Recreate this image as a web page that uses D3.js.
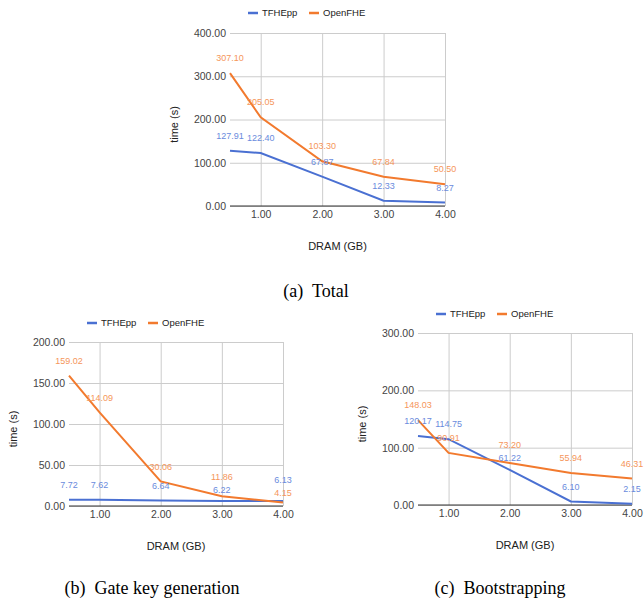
<!DOCTYPE html>
<html>
<head>
<meta charset="utf-8">
<script src="https://cdn.jsdelivr.net/npm/d3@7/dist/d3.min.js"></script>
<style>
  body { margin: 0; background: #fff; }
  svg { display: block; }
</style>
</head>
<body>
<svg id="chart" width="644" height="600"></svg>
<script>
// DRAM sizes (GB) on the x axis, first point is the 0.5 GB run
const dramGB = [0.5, 1, 2, 3, 4];
const xTicks = [1, 2, 3, 4];

const seriesNames = ['TFHEpp', 'OpenFHE'];

// (a) Total
const totalTFHEpp = [127.91, 122.40, 67.87, 12.33, 8.27];
const totalOpenFHE = [307.10, 205.05, 103.30, 67.84, 50.50];
const totalYTicks = [0, 100, 200, 300, 400];

// (b) Gate key generation
const gateTFHEpp = [7.72, 7.62, 6.64, 6.22, 6.13];
const gateOpenFHE = [159.02, 114.09, 30.06, 11.86, 4.15];
const gateYTicks = [0, 50, 100, 150, 200];

// (c) Bootstrapping
const bootTFHEpp = [120.17, 114.75, 61.22, 6.10, 2.15];
const bootOpenFHE = [148.03, 90.91, 73.20, 55.94, 46.31];
const bootYTicks = [0, 100, 200, 300];

const captions = ['(a)  Total', '(b)  Gate key generation', '(c)  Bootstrapping'];

const THEME = {
    lineColors: ['#4a70d2', '#f27a2e'],
    labelColors: ['#6a8bdd', '#f5965a'],
    grid: '#cccccc',
    baseline: '#333333',
    tick: '#444444',
    title: '#222222',
    sans: '"Liberation Sans", Arial, sans-serif',
    serif: '"Liberation Serif", "Times New Roman", serif'
};

const fmt = d3.format('.2f');
const svg = d3.select('#chart');

const panels = [
    { values: [totalTFHEpp, totalOpenFHE], yTicks: totalYTicks, caption: captions[0],
      box: { left: 230, right: 445, top: 33, bottom: 206 }, legendY: 13, capX: 316, capY: 297 },
    { values: [gateTFHEpp, gateOpenFHE], yTicks: gateYTicks, caption: captions[1],
      box: { left: 69, right: 283, top: 342, bottom: 506 }, legendY: 323, capX: 152, capY: 594 },
    { values: [bootTFHEpp, bootOpenFHE], yTicks: bootYTicks, caption: captions[2],
      box: { left: 418, right: 632, top: 333, bottom: 505 }, legendY: 314, capX: 500, capY: 594 }
];

function drawPanel(p) {
    const b = p.box;
    const g = svg.append('g');

    const x = d3.scaleLinear().domain([dramGB[0], dramGB[dramGB.length - 1]]).range([b.left, b.right]);
    const y = d3.scaleLinear().domain([0, d3.max(p.yTicks)]).range([b.bottom, b.top]);

    // horizontal grid + y tick labels
    g.append('g')
        .attr('transform', `translate(${b.left},0)`)
        .call(d3.axisLeft(y).tickValues(p.yTicks).tickFormat(fmt).tickSize(-(b.right - b.left)).tickPadding(4))
        .call(a => a.select('.domain').remove())
        .call(a => a.selectAll('line').attr('stroke', THEME.grid))
        .call(a => a.selectAll('text').attr('fill', THEME.tick).attr('font-size', 10.5).attr('font-family', THEME.sans));

    // vertical grid + x tick labels
    g.append('g')
        .attr('transform', `translate(0,${b.bottom})`)
        .call(d3.axisBottom(x).tickValues(xTicks).tickFormat(fmt).tickSize(-(b.bottom - b.top)).tickPadding(5))
        .call(a => a.select('.domain').remove())
        .call(a => a.selectAll('line').attr('stroke', THEME.grid))
        .call(a => a.selectAll('text').attr('fill', THEME.tick).attr('font-size', 10.5).attr('font-family', THEME.sans));

    // zero baseline
    g.append('line')
        .attr('x1', b.left).attr('x2', b.right)
        .attr('y1', y(0)).attr('y2', y(0))
        .attr('stroke', THEME.baseline).attr('stroke-width', 1);

    const line = d3.line().x((d, i) => x(dramGB[i])).y(d => y(d));

    p.values.forEach((vals, s) => {
        g.append('path')
            .datum(vals)
            .attr('fill', 'none')
            .attr('stroke', THEME.lineColors[s])
            .attr('stroke-width', 2)
            .attr('d', line);
    });

    // data labels: 15px above the point, pushed apart when the two collide
    const labels = [];
    dramGB.forEach((gb, i) => {
        const pair = p.values.map((vals, s) => ({ s, v: vals[i], x: x(gb), y: y(vals[i]) - 15 }));
        const [a0, a1] = pair;
        if (Math.abs(a0.y - a1.y) < 13) {
            const mid = (a0.y + a1.y) / 2;
            const hi = a0.v >= a1.v ? a0 : a1;
            const lo = hi === a0 ? a1 : a0;
            hi.y = mid - 6.5;
            lo.y = mid + 6.5;
        }
        labels.push(...pair);
    });

    g.append('g')
        .selectAll('text')
        .data(labels)
        .join('text')
        .attr('x', d => d.x)
        .attr('y', d => d.y)
        .attr('dy', '0.35em')
        .attr('text-anchor', 'middle')
        .attr('font-size', 9)
        .attr('font-family', THEME.sans)
        .attr('fill', d => THEME.labelColors[d.s])
        .text(d => fmt(d.v));

    // legend
    const lg = g.append('g').attr('transform', `translate(${b.left + 18},${p.legendY})`);
    seriesNames.forEach((name, s) => {
        const item = lg.append('g').attr('transform', `translate(${s * 61},0)`);
        item.append('line')
            .attr('x1', 0).attr('x2', 10)
            .attr('stroke', THEME.lineColors[s]).attr('stroke-width', 2.5);
        item.append('text')
            .attr('x', 14).attr('dy', '0.35em')
            .attr('font-size', 9.5).attr('font-family', THEME.sans)
            .attr('fill', THEME.title)
            .text(name);
    });

    // axis titles
    g.append('text')
        .attr('transform', `translate(${b.left - 56},${(b.top + b.bottom) / 2 + 5}) rotate(-90)`)
        .attr('text-anchor', 'middle').attr('dy', '0.35em')
        .attr('font-size', 11).attr('font-family', THEME.sans).attr('fill', THEME.title)
        .text('time (s)');

    g.append('text')
        .attr('x', (b.left + b.right) / 2).attr('y', b.bottom + 40)
        .attr('text-anchor', 'middle').attr('dy', '0.35em')
        .attr('font-size', 11).attr('font-family', THEME.sans).attr('fill', THEME.title)
        .text('DRAM (GB)');

    // sub-figure caption
    g.append('text')
        .attr('x', p.capX).attr('y', p.capY)
        .attr('text-anchor', 'middle')
        .attr('font-size', 18).attr('font-family', THEME.serif).attr('fill', '#000')
        .style('white-space', 'pre')
        .text(p.caption);
}

panels.forEach(drawPanel);
</script>
</body>
</html>
